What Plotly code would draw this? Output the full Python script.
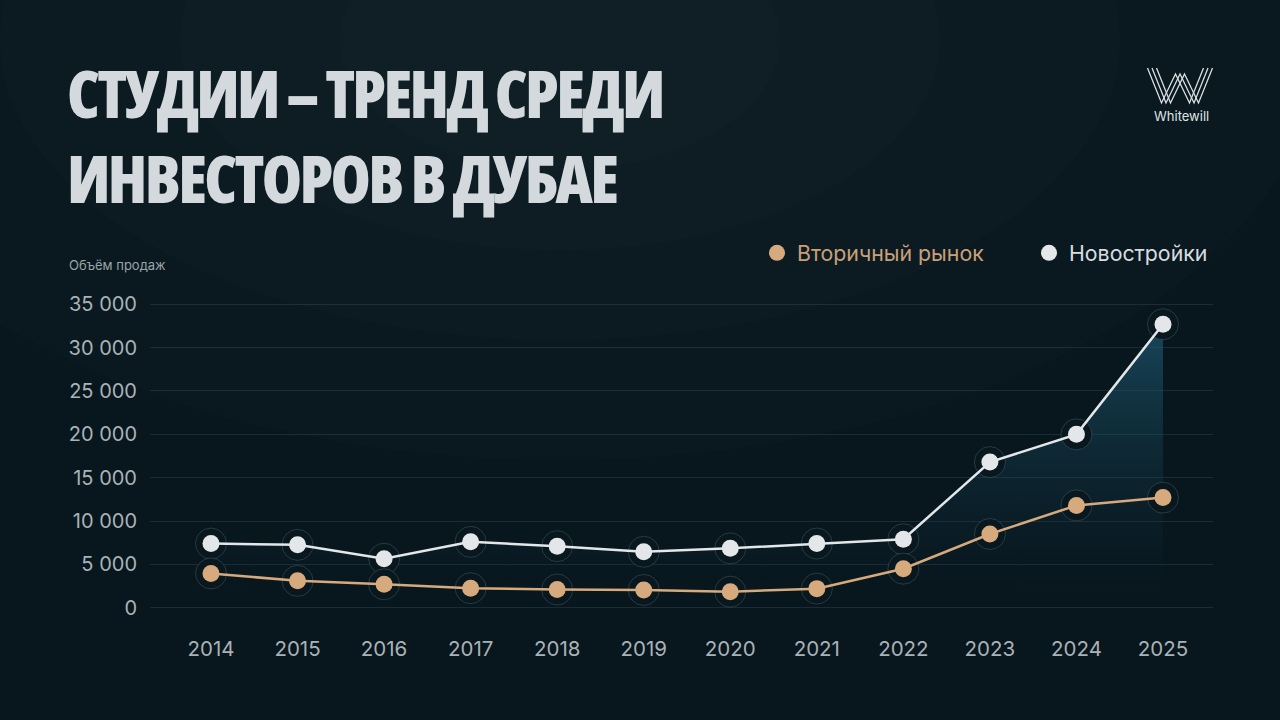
import plotly.graph_objects as go

years = [2014, 2015, 2016, 2017, 2018, 2019, 2020, 2021, 2022, 2023, 2024, 2025]
secondary = [3950, 3100, 2700, 2250, 2100, 2050, 1850, 2200, 4500, 8500, 11800, 12700]
offplan = [7400, 7250, 5650, 7600, 7100, 6450, 6850, 7400, 7900, 16800, 20000, 32700]
y_ticks = [0, 5000, 10000, 15000, 20000, 25000, 30000, 35000]
title_text = "СТУДИИ – ТРЕНД СРЕДИ<br>ИНВЕСТОРОВ В ДУБАЕ"
y_label = "Объём продаж"
name_secondary = "Вторичный рынок"
name_offplan = "Новостройки"
brand = "Whitewill"

W, H = 1280, 720
L, R, T, B = 150, 1213, 290, 620  # plot area in pixels


def px(xp):
    return (xp - L) / (R - L)


def py(yp):
    return (B - yp) / (B - T)


ORANGE = "#d6aa7c"
ORANGE_TXT = "#c9a07a"
WHITE = "#e3e7ea"
BG = "#08161d"
HALO = "#09171e"

fig = go.Figure()

# gradient area under new-build line
fig.add_trace(go.Scatter(
    x=years, y=offplan, mode="none", fill="tozeroy",
    fillgradient=dict(type="vertical",
                      colorscale=[[0, "rgba(12,35,45,0)"], [0.25, "rgba(20,62,80,0.14)"],
                                  [1, "rgba(35,105,135,0.58)"]]),
    showlegend=False, hoverinfo="skip"))

# halos
for ys in (offplan, secondary):
    fig.add_trace(go.Scatter(
        x=years, y=ys, mode="markers",
        marker=dict(size=31, color=HALO, line=dict(width=1, color="rgba(120,150,160,0.28)")),
        showlegend=False, hoverinfo="skip"))

fig.add_trace(go.Scatter(
    x=years, y=offplan, mode="lines+markers",
    line=dict(color=WHITE, width=2.5),
    marker=dict(size=17, color=WHITE),
    showlegend=False))
fig.add_trace(go.Scatter(
    x=years, y=secondary, mode="lines+markers",
    line=dict(color=ORANGE, width=2.5),
    marker=dict(size=17, color=ORANGE),
    showlegend=False))

# legend entries (two separate legends)
fig.add_trace(go.Scatter(
    x=[None], y=[None], mode="markers",
    marker=dict(size=17, color=ORANGE, line=dict(width=0)),
    name=name_secondary, legend="legend"))
fig.add_trace(go.Scatter(
    x=[None], y=[None], mode="markers",
    marker=dict(size=17, color=WHITE, line=dict(width=0)),
    name=name_offplan, legend="legend2"))

step = (1163 - 211) / 11
x_lo = 2014 - (211 - L) / step
x_hi = 2025 + (R - 1163) / step
ppk = (607.7 - 304.3) / 35000
y_lo = -(B - 607.7) / ppk
y_hi = 35000 + (304.3 - T) / ppk

shapes = []
# background glow
for rx, ry, a in [(760, 420, 0.045), (560, 300, 0.045), (380, 210, 0.045), (220, 130, 0.04)]:
    cx, cy = 560, 40
    shapes.append(dict(type="circle", xref="paper", yref="paper",
                       x0=px(cx - rx), x1=px(cx + rx), y0=py(cy + ry), y1=py(cy - ry),
                       fillcolor=f"rgba(60,90,100,{a})", line=dict(width=0), layer="below"))
# logo W
for off in (-4.5, 0, 4.5):
    pts = [(1152 + off, 68), (1166 + off, 103), (1180 + off, 74), (1194 + off, 103), (1208 + off, 68)]
    path = "M " + " L ".join(f"{px(a):.5f},{py(b):.5f}" for a, b in pts)
    shapes.append(dict(type="path", xref="paper", yref="paper", path=path,
                       line=dict(color="#d9dfe2", width=1.3)))

annotations = [
    dict(text=f'<span style="font-stretch:75%;letter-spacing:-2.7px">{title_text}</span>',
         xref="paper", yref="paper", x=px(65), y=py(135),
         xanchor="left", yanchor="middle", align="left", showarrow=False,
         font=dict(family="Open Sans", size=65, color="#d3d9dc", weight=800)),
    dict(text=y_label, xref="paper", yref="paper", x=px(67), y=py(265),
         xanchor="left", yanchor="middle", showarrow=False,
         font=dict(family="Inter", size=13, color="#9aa4a9")),
    dict(text=brand, xref="paper", yref="paper", x=px(1181), y=py(116),
         xanchor="center", yanchor="middle", showarrow=False,
         font=dict(family="Inter", size=13, color="#dfe4e6")),
]

leg_common = dict(orientation="h", xanchor="left", y=py(253), yanchor="middle",
                  bgcolor="rgba(0,0,0,0)")

fig.update_layout(
    width=W, height=H,
    margin=dict(l=L, r=W - R, t=T, b=H - B),
    paper_bgcolor=BG, plot_bgcolor="rgba(0,0,0,0)",
    separators=", ",
    font=dict(family="Inter", color="#aab3b8"),
    shapes=shapes, annotations=annotations,
    showlegend=True,
    legend=dict(x=px(757), font=dict(family="Inter", size=21.3, color=ORANGE_TXT), **leg_common),
    legend2=dict(x=px(1029), font=dict(family="Inter", size=21.3, color="#d8dde0"), **leg_common),
    xaxis=dict(range=[x_lo, x_hi], tickvals=years, ticktext=[str(y) for y in years],
               showgrid=False, zeroline=False, showline=False,
               tickfont=dict(size=20.5, color="#a9b2b7"), ticklabelstandoff=14),
    yaxis=dict(range=[y_lo, y_hi], tickvals=y_ticks, tickformat=",d",
               showgrid=True, gridcolor="rgba(90,125,138,0.22)", gridwidth=1,
               zeroline=False, showline=False,
               tickfont=dict(size=20, color="#a9b2b7"), ticklabelstandoff=12),
)

fig.write_html("out.html", post_script="document.body.style.margin='0';",
               config={"displayModeBar": False})
